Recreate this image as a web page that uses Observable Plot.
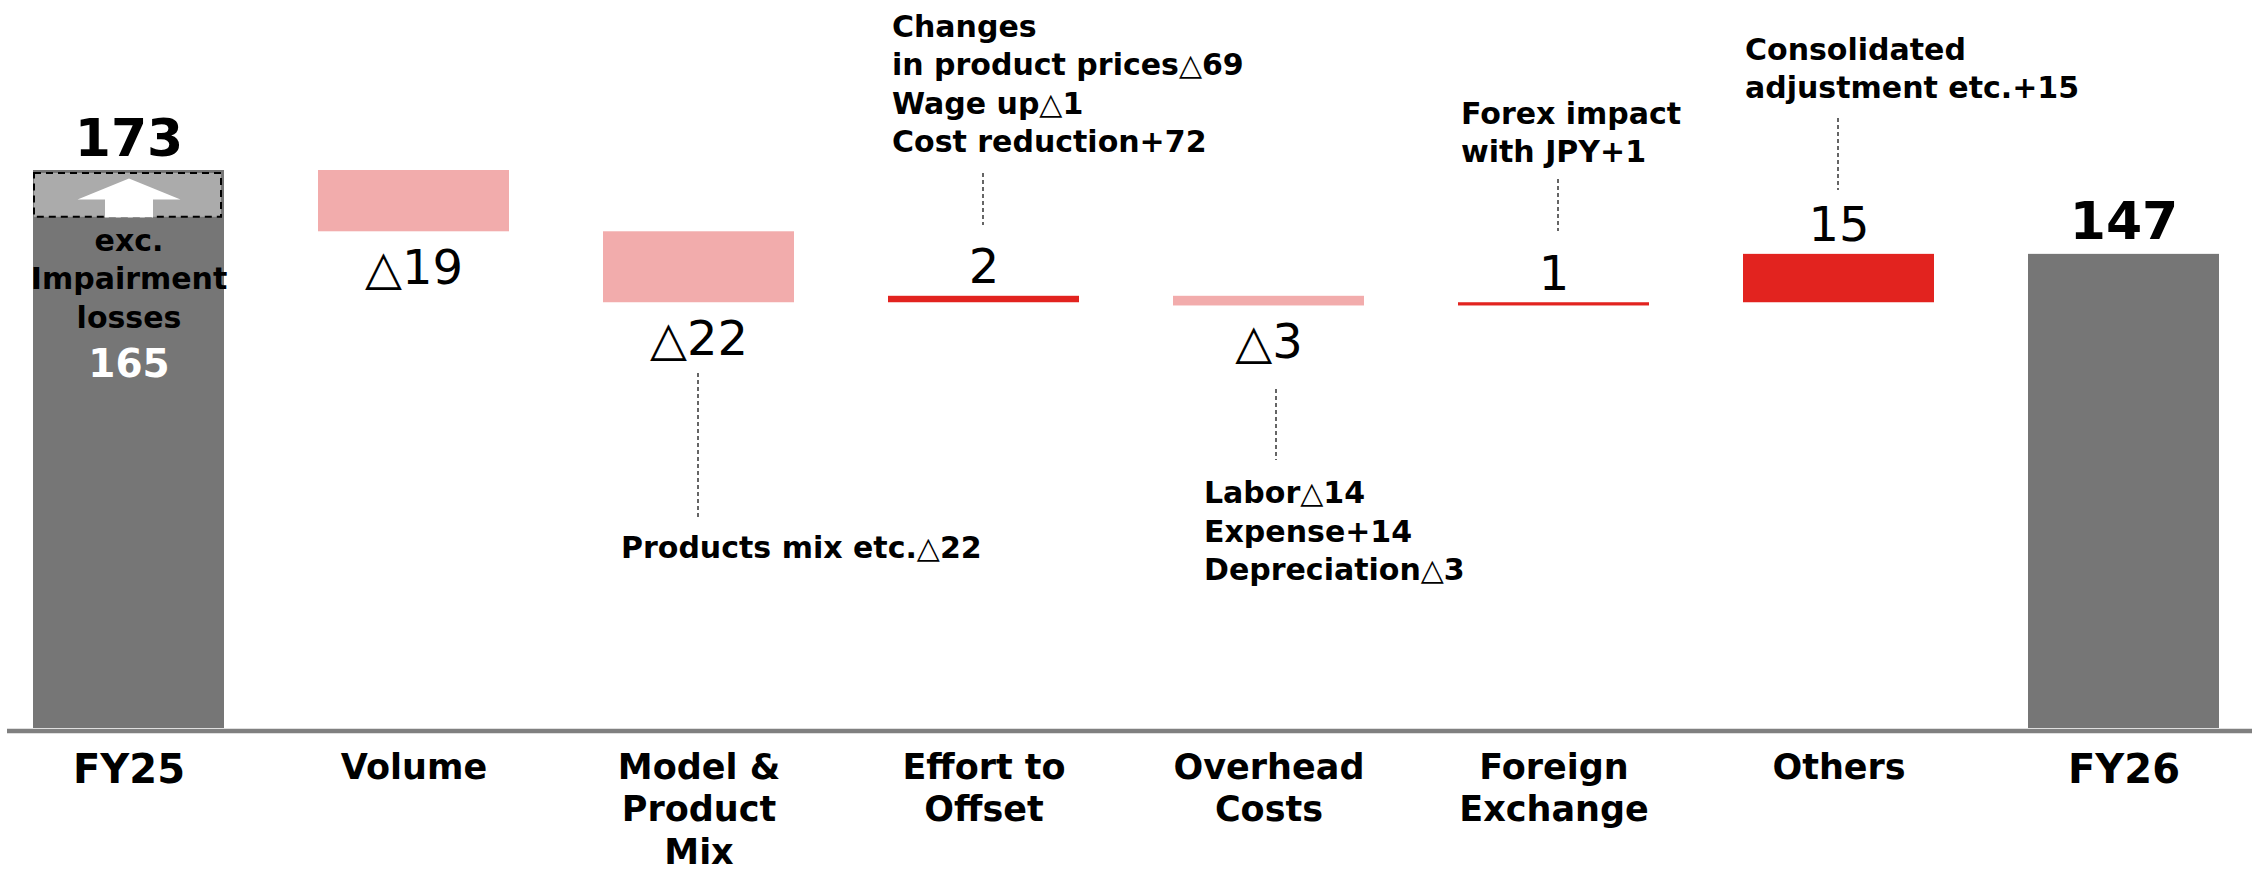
<!DOCTYPE html>
<html><head><meta charset="utf-8">
<script src="https://cdn.jsdelivr.net/npm/d3@7"></script>
<script src="https://cdn.jsdelivr.net/npm/@observablehq/plot@0.6"></script>
<style>
html,body{margin:0;padding:0;background:#fff;overflow:hidden;}
#chart svg{display:block;}
</style></head><body><div id="chart"></div>
<script>
// ---- data ----
const categories = ["FY25","Volume","Model & Product Mix","Effort to Offset","Overhead Costs","Foreign Exchange","Others","FY26"];
const tickLabels = ["FY25","Volume","Model &\nProduct\nMix","Effort to\nOffset","Overhead\nCosts","Foreign\nExchange","Others","FY26"];
const values = [173, -19, -22, 2, -3, 1, 15, 147];
const kinds = ["total","delta","delta","delta","delta","delta","delta","total"];
const valueLabels = ["173","△19","△22","2","△3","1","15","147"];
const impairmentCategory = "FY25";
const impairmentValue = 165;
const impairmentText = "exc.\nImpairment\nlosses";
const noteCategories = ["Effort to Offset","Model & Product Mix","Overhead Costs","Foreign Exchange","Others"];
const noteTexts = [
  "Changes\nin product prices△69\nWage up△1\nCost reduction+72",
  "Products mix etc.△22",
  "Labor△14\nExpense+14\nDepreciation△3",
  "Forex impact\nwith JPY+1",
  "Consolidated\nadjustment etc.+15"
];

// ---- derived waterfall table ----
let run = 0;
const rows = categories.map((c, i) => {
  let y1, y2;
  if (kinds[i] === "total") { y1 = 0; y2 = values[i]; run = values[i]; }
  else { y1 = run; y2 = run + values[i]; run = y2; }
  return {c, label: tickLabels[i], value: values[i], kind: kinds[i], y1, y2,
          top: Math.max(y1, y2), bottom: Math.min(y1, y2), text: valueLabels[i]};
});
const fy25 = rows.find(d => d.c === impairmentCategory);
const notes = noteCategories.map((c, i) => ({c, text: noteTexts[i]}));

// ---- styling / layout (pixels) ----
const W = 2252, H = 872, MT = 170, MB = 144;
const colorOf = d => d.kind === "total" ? "#767676" : d.value >= 0 ? "#E2231F" : "#F2ACAC";
const noteLayout = {
  "Effort to Offset":    {dx: -92,  base: 151, lt: 173, lb: 225, ldx: -1},
  "Model & Product Mix": {dx: -78,  base: 557, lt: 373, lb: 517, ldx: -1},
  "Overhead Costs":      {dx: -65,  base: 579, lt: 389, lb: 460, ldx: 7},
  "Foreign Exchange":    {dx: -93,  base: 161, lt: 179, lb: 231, ldx: 4},
  "Others":              {dx: -94,  base: 97,  lt: 118, lb: 190, ldx: -1}
};
const bottomPx = H - MB;

const arrowSymbol = {
  draw(ctx) {
    ctx.moveTo(0, 8);
    ctx.lineTo(51.5, 29);
    ctx.lineTo(24, 29);
    ctx.lineTo(24, 47);
    ctx.lineTo(-24, 47);
    ctx.lineTo(-24, 29);
    ctx.lineTo(-51.5, 29);
    ctx.closePath();
  }
};

const noteMarks = notes.flatMap(n => {
  const L = noteLayout[n.c];
  return [
    Plot.ruleX([n], {x: "c", stroke: "#333", strokeWidth: 1.5, strokeDasharray: "4,3",
      insetTop: L.lt - MT, insetBottom: bottomPx - L.lb, dx: L.ldx}),
    Plot.text([n], {x: "c", frameAnchor: "top", text: "text", textAnchor: "start",
      lineAnchor: "bottom", dx: L.dx, dy: L.base - MT, fontSize: 30, fontWeight: "bold",
      lineHeight: 1.267, fill: "#000"})
  ];
});

const chart = Plot.plot({
  width: W, height: H,
  marginTop: MT, marginBottom: MB, marginLeft: 32, marginRight: 33,
  style: {fontFamily: "'DejaVu Sans', sans-serif", background: "#fff", overflow: "visible"},
  x: {type: "band", domain: categories, paddingInner: 0.33, paddingOuter: 0, axis: null},
  y: {domain: [0, 173], axis: null},
  marks: [
    Plot.barY(rows, {x: "c", y1: "y1", y2: "y2", fill: colorOf}),
    // impairment overlay on FY25
    Plot.barY([fy25], {x: "c", y1: () => impairmentValue, y2: "top", fill: "#ABABAB",
      stroke: "#000", strokeWidth: 2, strokeDasharray: "7,5",
      insetTop: 3, insetBottom: -21, insetLeft: 1, insetRight: 3}),
    Plot.dot([fy25], {x: "c", y: "top", symbol: arrowSymbol, fill: "#fff", stroke: "none"}),
    Plot.text([fy25], {x: "c", y: "top", text: () => impairmentText, lineAnchor: "bottom",
      dy: 157, fontSize: 30, fontWeight: "bold", lineHeight: 1.28, fill: "#000"}),
    Plot.text([fy25], {x: "c", y: "top", text: () => String(impairmentValue), lineAnchor: "bottom",
      dy: 206, fontSize: 39, fontWeight: "bold", fill: "#fff"}),
    // axis baseline
    Plot.ruleY([0], {stroke: "#808080", strokeWidth: 4.5, dy: 2.5, insetLeft: -25, insetRight: -33}),
    // value labels
    Plot.text(rows.filter(d => d.kind === "total"), {x: "c", y: "top", text: "text",
      lineAnchor: "bottom", dy: -15, fontSize: 52, fontWeight: "bold", fill: "#000"}),
    Plot.text(rows.filter(d => d.kind === "delta" && d.value >= 0), {x: "c", y: "top", text: "text",
      lineAnchor: "bottom", dy: -13, fontSize: 48, fill: "#000"}),
    Plot.text(rows.filter(d => d.kind === "delta" && d.value < 0), {x: "c", y: "bottom", text: "text",
      lineAnchor: "bottom", dy: 52, fontSize: 48, fill: "#000"}),
    // category labels
    Plot.text(rows.filter(d => d.kind === "total"), {x: "c", y: () => 0, text: "label",
      lineAnchor: "top", dy: 26, fontSize: 40, fontWeight: "bold", fill: "#000"}),
    Plot.text(rows.filter(d => d.kind === "delta"), {x: "c", y: () => 0, text: "label",
      lineAnchor: "top", dy: 20.5, fontSize: 35, fontWeight: "bold", lineHeight: 1.21, fill: "#000"}),
    ...noteMarks
  ]
});
document.getElementById("chart").append(chart);
</script>
</body></html>
